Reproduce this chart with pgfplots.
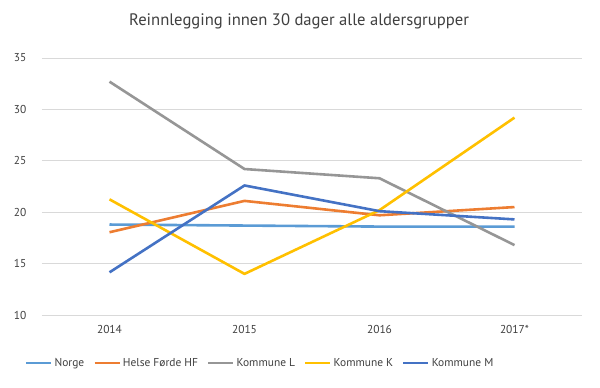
\documentclass[border=0pt]{standalone}
\usepackage{fontspec}
\setmainfont{PT Sans}
\usepackage{pgfplots}
\pgfplotsset{compat=1.18}
\definecolor{cNorge}{HTML}{5B9BD5}
\definecolor{cHelse}{HTML}{ED7D31}
\definecolor{cL}{HTML}{969696}
\definecolor{cK}{HTML}{FFC000}
\definecolor{cM}{HTML}{4472C4}
\definecolor{txt}{HTML}{404040}
\definecolor{grd}{HTML}{D9D9D9}
\begin{document}
\begin{tikzpicture}
\path[use as bounding box] (-42bp,-73bp) rectangle (558bp,315bp);
\begin{axis}[
  at={(0,0)}, anchor=south west,
  scale only axis, width=540bp, height=257bp,
  xmin=-0.5, xmax=3.5, ymin=10, ymax=35,
  xtick={0,1,2,3}, xticklabels={2014,2015,2016,2017*},
  ytick={10,15,20,25,30,35},
  axis line style={draw=none},
  major tick length=0pt,
  ymajorgrids, grid style={grd, line width=0.8bp},
  tick label style={font=\fontsize{11.5}{13}\selectfont, text=txt},
  /pgf/number format/assume math mode=true,
  yticklabel style={xshift=-12bp},
  xticklabel style={yshift=-7bp},
  title={Reinnlegging innen 30 dager alle aldersgrupper},
  title style={at={(0.476,1.12)}, anchor=center, font=\fontsize{16.7}{20}\selectfont, text=txt},
  legend columns=5,
  legend style={at={(0.404,-0.187)}, anchor=center, draw=none, fill=none,
    font=\fontsize{11.5}{13}\selectfont, text=txt,
    /tikz/every even column/.append style={column sep=7bp}},
  legend image code/.code={\draw[#1] (0bp,0bp) -- (25bp,0bp);},
  every axis plot/.append style={line width=2.6bp, line join=round},
]
\addplot[cNorge] coordinates {(0,18.8) (1,18.7) (2,18.6) (3,18.6)};
\addlegendentry{Norge}
\addplot[cHelse] coordinates {(0,18.05) (1,21.1) (2,19.7) (3,20.5)};
\addlegendentry{Helse Førde HF}
\addplot[cL] coordinates {(0,32.7) (1,24.2) (2,23.3) (3,16.8)};
\addlegendentry{Kommune L}
\addplot[cK] coordinates {(0,21.25) (1,14.0) (2,20.2) (3,29.2)};
\addlegendentry{Kommune K}
\addplot[cM] coordinates {(0,14.15) (1,22.6) (2,20.1) (3,19.3)};
\addlegendentry{Kommune M}
\end{axis}
\end{tikzpicture}
\end{document}
